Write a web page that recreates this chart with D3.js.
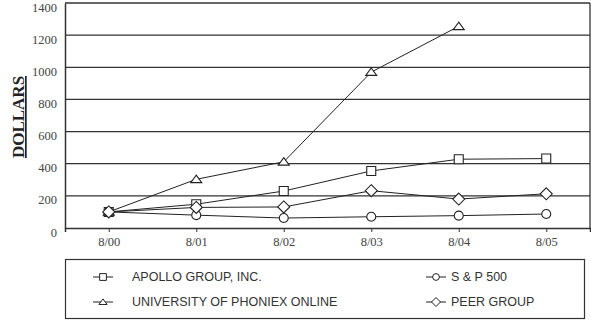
<!DOCTYPE html>
<html>
<head>
<meta charset="utf-8">
<script src="https://cdn.jsdelivr.net/npm/d3@7"></script>
<style>
body { margin: 0; background: #fff; }
svg { display: block; }
</style>
</head>
<body>
<div id="chart"></div>
<script>
var periods = ["8/00", "8/01", "8/02", "8/03", "8/04", "8/05"];
var apollo = [100, 148, 230, 355, 428, 432];
var phoenix = [100, 303, 412, 970, 1255, null];
var sp500 = [100, 80, 62, 70, 77, 87];
var peer = [100, 128, 131, 232, 180, 213];
var yTicks = [0, 200, 400, 600, 800, 1000, 1200, 1400];

// marker shapes, r = half size in px
function square(r) { return "M" + -r + "," + -r + "h" + 2 * r + "v" + 2 * r + "h" + -2 * r + "Z"; }
function triangle(r) { return "M0," + -r * 0.75 + "L" + r + "," + r * 0.6 + "L" + -r + "," + r * 0.6 + "Z"; }
function circle(r) { return "M" + r + ",0A" + r + "," + r + " 0 1,1 " + -r + ",0A" + r + "," + r + " 0 1,1 " + r + ",0Z"; }
function diamond(r) { return "M0," + -r + "L" + r + ",0L0," + r + "L" + -r + ",0Z"; }

var series = [
  {name: "APOLLO GROUP, INC.", values: apollo, shape: square, r: 4.5},
  {name: "UNIVERSITY OF PHONIEX ONLINE", values: phoenix, shape: triangle, r: 5.5},
  {name: "S & P 500", values: sp500, shape: circle, r: 4.5},
  {name: "PEER GROUP", values: peer, shape: diamond, r: 6}
];

var W = 591, H = 321;
var margin = {top: 3, right: 1, bottom: 93, left: 65},
    width = W - margin.left - margin.right,
    height = H - margin.top - margin.bottom;

var svg = d3.select("#chart").append("svg").attr("width", W).attr("height", H),
    g = svg.append("g").attr("transform", "translate(" + margin.left + "," + margin.top + ")");

var x = d3.scalePoint().domain(periods).range([0, width]).padding(0.5);
var y = d3.scaleLinear().domain([0, 1400]).range([height, 0]);

// grid
g.append("g").selectAll("line")
  .data(yTicks.slice(1))
  .enter().append("line")
    .attr("x1", 0).attr("x2", width)
    .attr("y1", function(d) { return y(d); })
    .attr("y2", function(d) { return y(d); })
    .attr("stroke", "#333").attr("stroke-width", 1.3);

g.append("line").attr("x1", width).attr("x2", width).attr("y1", 0).attr("y2", height)
  .attr("stroke", "#333").attr("stroke-width", 1.3);

// axes
var xAxis = g.append("g")
  .attr("transform", "translate(0," + height + ")")
  .call(d3.axisBottom(x).tickSize(4).tickPadding(5));
var yAxis = g.append("g")
  .call(d3.axisLeft(y).tickValues(yTicks).tickFormat(d3.format("d")).tickSize(0).tickPadding(8));

[xAxis, yAxis].forEach(function(a) {
  a.attr("font-family", null).attr("font-size", null);
  a.select(".domain").attr("stroke", "#333").attr("stroke-width", 1.5);
  a.selectAll(".tick line").attr("stroke", "#333");
  a.selectAll("text")
    .style("font-family", "'Liberation Serif', 'Times New Roman', serif")
    .style("font-size", "12.5px").attr("fill", "#444");
});
// y labels sit a little below their gridlines in the original
yAxis.selectAll("text").attr("y", 4);

// lines + markers
var line = d3.line()
  .defined(function(d) { return d != null; })
  .x(function(d, i) { return x(periods[i]); })
  .y(function(d) { return y(d); });

series.forEach(function(s) {
  g.append("path").datum(s.values)
    .attr("fill", "none").attr("stroke", "#222").attr("stroke-width", 1)
    .attr("d", line);
});
series.forEach(function(s) {
  g.append("g").selectAll("path")
    .data(s.values.map(function(v, i) { return {v: v, p: periods[i]}; })
      .filter(function(d) { return d.v != null; }))
    .enter().append("path")
      .attr("transform", function(d) { return "translate(" + x(d.p) + "," + y(d.v) + ")"; })
      .attr("d", s.shape(s.r))
      .attr("fill", "#fff").attr("stroke", "#222").attr("stroke-width", 1.1);
});

// y label
svg.append("text")
  .attr("transform", "translate(24,117) rotate(-90)")
  .attr("text-anchor", "middle")
  .style("font-family", "'Liberation Serif', 'Times New Roman', serif")
  .attr("font-weight", "bold").attr("font-size", 17)
  .attr("text-decoration", "underline")
  .attr("fill", "#222")
  .text("DOLLARS");

// legend
var leg = svg.append("g");
leg.append("rect").attr("x", 65.5).attr("y", 259.5).attr("width", 519).attr("height", 59)
  .attr("fill", "none").attr("stroke", "#333").attr("stroke-width", 1.2);

var legPos = [[103, 277], [103, 302], [436, 277], [436, 302]];
series.forEach(function(s, i) {
  var p = legPos[i];
  leg.append("line").attr("x1", p[0] - 10).attr("x2", p[0] + 10)
    .attr("y1", p[1]).attr("y2", p[1]).attr("stroke", "#222");
  leg.append("path").attr("transform", "translate(" + p[0] + "," + p[1] + ")")
    .attr("d", s.shape(s.r * 0.75))
    .attr("fill", "#fff").attr("stroke", "#222");
  leg.append("text").attr("x", p[0] + (i < 2 ? 29 : 15)).attr("y", p[1]).attr("dy", "0.35em")
    .style("font-family", "'Liberation Sans', Arial, sans-serif").attr("font-size", 12.5)
    .attr("fill", "#333").text(s.name);
});
</script>
</body>
</html>
